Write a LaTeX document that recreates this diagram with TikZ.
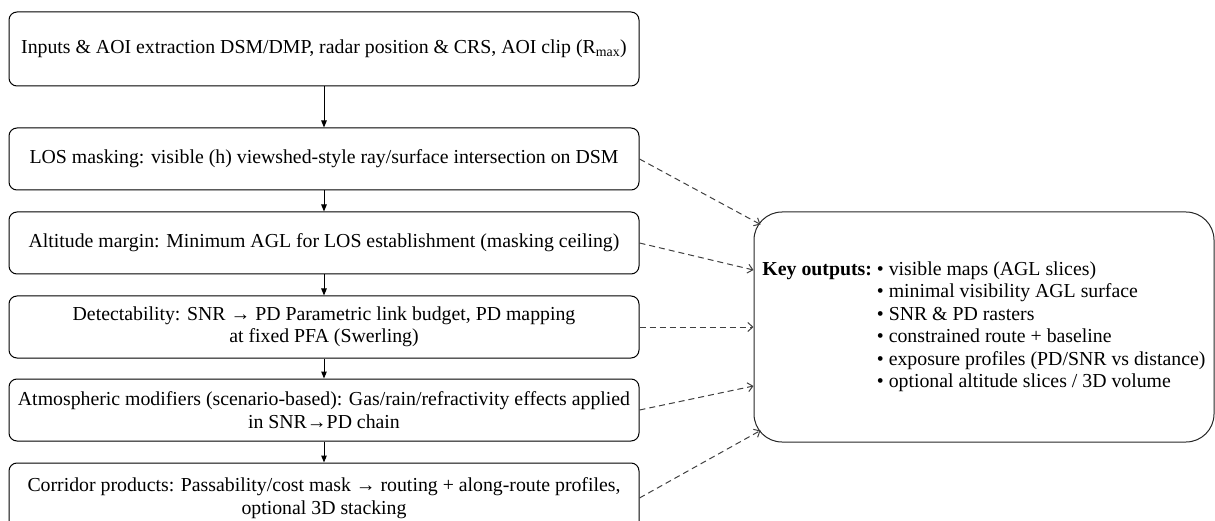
\documentclass[tikz,border=0pt]{standalone}
\usepackage{fontspec}
\setmainfont{Liberation Serif}
\usetikzlibrary{arrows.meta,calc}

\begin{document}
\begin{tikzpicture}[x=1pt, y=-1pt, >={Triangle[length=7pt,width=5.5pt]}, line width=1pt,
    every node/.style={font=\fontsize{19.8}{22.4}\selectfont},
    flowbox/.style={draw, rounded corners=8pt, minimum width=630pt, minimum height=62pt, align=center, inner sep=2pt},
    outbox/.style={draw=black!85, rounded corners=28pt, minimum width=460pt, minimum height=230pt, inner sep=0pt},
    feed/.style={draw=black!75, dash pattern=on 6pt off 4pt, -{Straight Barb[length=5pt,width=9pt]}}]
    % 0. 画布范围
    \useasboundingbox (0,0) rectangle (1215,521);
    \clip (0,0) rectangle (1215,521);
    
    % 1. 左侧流程框
    \node[flowbox, minimum height=74pt] (inputs) at (324,49) {Inputs \& AOI extraction DSM/DMP, radar position \& CRS, AOI clip (R\textsubscript{max})};
    \node[flowbox] (los) at (324,159) {LOS masking: visible (h) viewshed-style ray/surface intersection on DSM};
    \node[flowbox] (alt) at (324,243) {Altitude margin: Minimum AGL for LOS establishment (masking ceiling)};
    \node[flowbox] (detect) at (324,327) {Detectability: SNR → PD Parametric link budget, PD mapping\\at fixed PFA (Swerling)};
    \node[flowbox] (atmos) at (324,410) {Atmospheric modifiers (scenario-based): Gas/rain/refractivity effects applied\\in SNR→PD chain};
    \node[flowbox, minimum height=70pt] (corr) at (324,498) {Corridor products: Passability/cost mask → routing + along-route profiles,\\optional 3D stacking};
    
    % 2. 主流程箭头
    \foreach \a/\b in {inputs/los, los/alt, alt/detect, detect/atmos, atmos/corr}
        \draw[->] (\a) -- (\b);
    
    % 3. 输出框
    \node[outbox] (out) at (984,327) {\begin{tabular}{@{}l@{\ }l@{}}
        \textbf{Key outputs:} & • visible maps (AGL slices)\\
         & • minimal visibility AGL surface\\
         & • SNR \& PD rasters\\
         & • constrained route + baseline\\
         & • exposure profiles (PD/SNR vs distance)\\
         & • optional altitude slices / 3D volume
    \end{tabular}};
    
    % 4. 虚线汇入输出框
    \coordinate (in1) at ($(out.north west)+(7,13)$);
    \coordinate (in2) at ($(out.west)+(0,-57)$);
    \coordinate (in4) at ($(out.west)+(0,59)$);
    \coordinate (in5) at ($(out.south west)+(7,-12)$);
    \draw[feed] (los.east) -- (in1);
    \draw[feed] (alt.east) -- (in2);
    \draw[feed] (detect.east) -- (out.west);
    \draw[feed] (atmos.east) -- (in4);
    \draw[feed] (corr.east) -- (in5);
\end{tikzpicture}
\end{document}
